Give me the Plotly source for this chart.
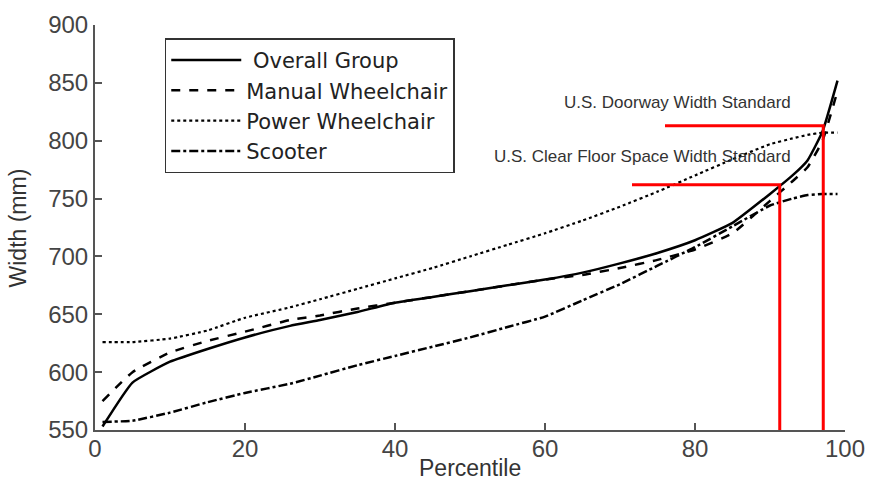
import plotly.graph_objects as go

# Percentile grid
pct = [1, 5, 10, 15, 20, 26, 30, 35, 40, 45, 50, 55, 60, 65, 70, 75, 80, 85, 90, 93, 95, 97, 99]

overall = [553, 591, 609, 620, 630, 640, 645, 652, 660, 665, 670, 675, 680, 686, 694, 703, 714, 729, 754, 770, 783, 808, 852]
manual = [575, 600, 617, 627, 635, 645, 649, 655, 660, 665, 670, 675, 680, 684, 690, 697, 706, 720, 748, 765, 777, 800, 843]
power = [626, 626, 629, 636, 647, 656, 663, 672, 681, 690, 700, 710, 720, 731, 743, 756, 770, 784, 797, 802, 805, 807, 807]
scooter = [557, 558, 565, 574, 582, 590, 597, 606, 614, 622, 630, 639, 648, 662, 676, 692, 708, 726, 744, 750, 753, 754, 754]

series_names = ["\u00a0Overall Group", "Manual Wheelchair", "Power Wheelchair", "Scooter"]
series_values = [overall, manual, power, scooter]
series_dash = ["solid", "dash", "dot", "dashdot"]
series_width = [2.5, 2.5, 2.2, 2.5]

# Standards (mm) and corresponding percentiles
std_labels = ["U.S. Doorway Width Standard", "U.S. Clear Floor Space Width Standard"]
std_width = [813, 762]
std_pct = [97.1, 91.3]
std_line_start = [76, 71.6]
std_label_y = [833, 786]

x_ticks = [0, 20, 40, 60, 80, 100]
y_ticks = [550, 600, 650, 700, 750, 800, 850, 900]

FONT = "Liberation Sans, Arial"

fig = go.Figure()

for i, (name, vals) in enumerate(zip(series_names, series_values)):
    fig.add_trace(go.Scatter(
        x=pct, y=vals, mode="lines", name=name,
        line=dict(color="black", width=series_width[i], dash=series_dash[i], shape="spline", smoothing=0.4),
    ))

for w, p, s, lab, ly in zip(std_width, std_pct, std_line_start, std_labels, std_label_y):
    fig.add_trace(go.Scatter(
        x=[s, p, p], y=[w, w, 550], mode="lines",
        line=dict(color="#ff0000", width=3), showlegend=False, hoverinfo="skip",
    ))
    fig.add_annotation(
        x=93.1, y=ly, text=lab, showarrow=False, xanchor="right", yanchor="middle",
        font=dict(family="Liberation Sans Narrow, Arial Narrow, Liberation Sans, Arial", size=17, color="#333333"),
    )

# Axis titles
fig.add_annotation(x=0.5, y=-0.094, xref="paper", yref="paper", text="Percentile",
                   showarrow=False, xanchor="center", yanchor="middle",
                   font=dict(family=FONT, size=23, color="#333333"))
fig.add_annotation(x=-0.1027, y=0.5, xref="paper", yref="paper", text="Width (mm)",
                   showarrow=False, xanchor="center", yanchor="middle", textangle=-90,
                   font=dict(family=FONT, size=23, color="#333333"))

axis_common = dict(
    showgrid=False, zeroline=False, showline=True, linecolor="#555555", linewidth=2,
    ticks="inside", ticklen=7, tickwidth=1.5, tickcolor="#555555",
    tickfont=dict(family=FONT, size=24, color="#444444"),
    mirror=False, automargin=False,
)

fig.update_xaxes(range=[0, 100], tickvals=x_ticks, ticklabelstandoff=-4, **axis_common)
fig.update_yaxes(range=[550, 900], tickvals=y_ticks, **axis_common)

fig.update_layout(
    width=870, height=487,
    margin=dict(l=95, r=25, t=25, b=57),
    plot_bgcolor="white", paper_bgcolor="white",
    showlegend=True,
    legend=dict(
        x=0.093, y=0.967, xanchor="left", yanchor="top",
        bordercolor="#333333", borderwidth=1.5, bgcolor="white",
        font=dict(family="DejaVu Sans, Liberation Sans", size=21, color="#222222"),
        itemwidth=70, tracegroupgap=0,
    ),
)

fig.write_html("out.html", config={"displayModeBar": False},
               post_script="document.body.style.margin='0';document.body.style.padding='0';")
